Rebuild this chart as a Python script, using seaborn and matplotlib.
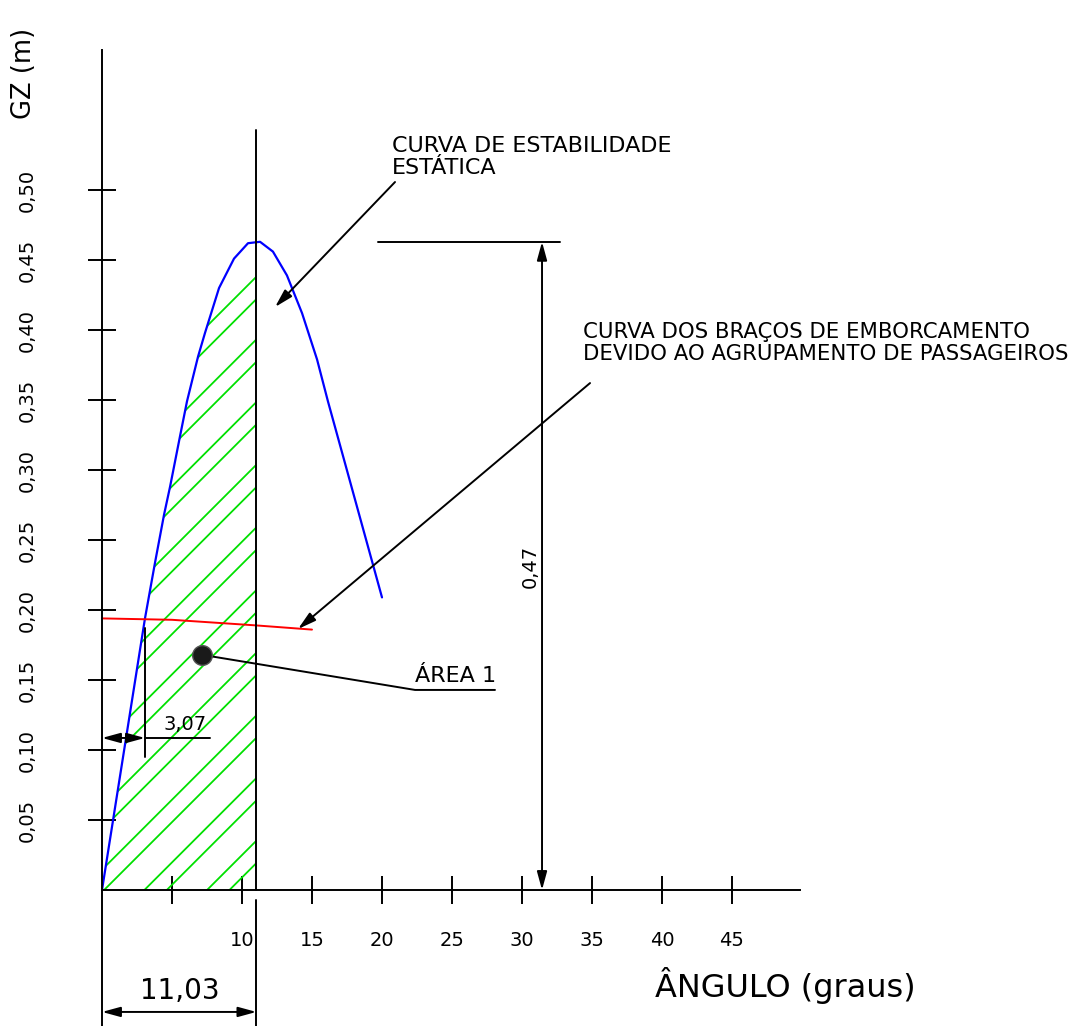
import numpy as np
import matplotlib
matplotlib.use("Agg")
import matplotlib.pyplot as plt
from matplotlib.patches import Polygon
import seaborn as sns

# curva de estabilidade estatica (GZ x angulo)
angulo_gz = [0, 3.07, 3.79, 4.43, 4.86, 5.57, 6.07, 6.86, 7.36, 8.36, 9.43,
             10.43, 11.29, 12.21, 13.21, 14.29, 15.36, 16.14, 20.0]
gz = [0, 0.194, 0.234, 0.268, 0.288, 0.324, 0.349, 0.381, 0.398, 0.430, 0.451,
      0.462, 0.463, 0.456, 0.439, 0.412, 0.379, 0.349, 0.209]

# bracos de emborcamento (agrupamento de passageiros)
angulo_braco = [0, 5, 11, 15]
braco = [0.194, 0.193, 0.189, 0.186]

# eixos
x_ticks = [5, 10, 15, 20, 25, 30, 35, 40, 45]
x_labels = ["", "10", "15", "20", "25", "30", "35", "40", "45"]
y_ticks = [0.05, 0.10, 0.15, 0.20, 0.25, 0.30, 0.35, 0.40, 0.45, 0.50]
y_labels = ["0,05", "0,10", "0,15", "0,20", "0,25", "0,30", "0,35", "0,40", "0,45", "0,50"]

# cotas
ang_equilibrio = 3.07
ang_limite = 11.03
gz_max_txt = "0,47"
area_ponto = (7.14, 0.168)

# --- figura ---
sns.set_style("white")
plt.rcParams['font.family'] = ['DejaVu Sans']
plt.rcParams['text.color'] = 'black'
fig = plt.figure(figsize=(10.87, 10.26), dpi=100)
ax = fig.add_axes([0, 0, 1, 1])
ax.set_xlim(-102 / 14, (1087 - 102) / 14)
ax.set_ylim(-136 / 1400, 890 / 1400)
ax.patch.set_alpha(0)

lw = 1.4
fs = 16

# hachura da area 1
gz_lim = np.interp(ang_limite, angulo_gz, gz)
verts = [(a, g) for a, g in zip(angulo_gz, gz) if a < ang_limite]
verts += [(ang_limite, gz_lim), (ang_limite, 0)]
area = Polygon(verts, closed=True, transform=ax.transData,
               facecolor='none', edgecolor='none')
ax.add_patch(area)
periodo = 0.04476
for g0 in np.arange(0.4381, 0, -periodo):
    for off in (0, -0.016):
        xs = np.array([-1, ang_limite + 1])
        ys = g0 + off + 0.01 * (xs - ang_limite)
        ln, = ax.plot(xs, ys, color='#00e000', lw=1.3)
        ln.set_clip_path(area)

sns.lineplot(x=angulo_gz, y=gz, sort=False, estimator=None, color='#0000ff',
             lw=1.6, ax=ax)
sns.lineplot(x=angulo_braco, y=braco, sort=False, estimator=None,
             color='#ff0000', lw=1.4, ax=ax)

# eixos tipo CAD
for s in ['top', 'right']:
    ax.spines[s].set_visible(False)
ax.spines['left'].set_position(('data', 0))
ax.spines['bottom'].set_position(('data', 0))
ax.spines['left'].set_bounds(-136 / 1400, 0.6)
ax.spines['bottom'].set_bounds(0, 49.86)
for s in ['left', 'bottom']:
    ax.spines[s].set_linewidth(lw)
    ax.spines[s].set_color('black')
ax.set_xticks(x_ticks)
ax.set_xticklabels(x_labels, fontsize=14)
ax.set_yticks(y_ticks)
ax.set_yticklabels(y_labels, rotation=90, va='center', fontsize=14)
ax.tick_params(axis='both', direction='inout', length=20.5, width=lw,
               colors='black', bottom=True, left=True)
ax.tick_params(axis='x', pad=19)
ax.tick_params(axis='y', pad=37)

ax.text(24 / 1087, 1 - 73 / 1026, "GZ (m)", transform=ax.transAxes,
        rotation=90, ha='center', va='center', fontsize=18.5)
ax.text(655 / 1087, 1 - 986 / 1026, "ÂNGULO (graus)", transform=ax.transAxes,
        ha='left', va='center', fontsize=23)

# linha do angulo limite
ax.plot([ang_limite, ang_limite], [0, 0.543], color='black', lw=lw)
ax.plot([ang_limite, ang_limite], [-0.007, -0.097], color='black', lw=lw)

arrow2 = dict(arrowstyle='<|-|>,head_length=0.55,head_width=0.15',
              color='black', lw=lw, shrinkA=0, shrinkB=0, mutation_scale=20)
arrow1 = dict(arrowstyle='-|>,head_length=0.55,head_width=0.15',
              color='black', lw=lw, shrinkA=0, shrinkB=0, mutation_scale=20)

# cota 11,03
ax.annotate("", xy=(0, -0.0871), xytext=(ang_limite, -0.0871), arrowprops=arrow2)
ax.text(ang_limite / 2 + 0.05, -0.0725, "11,03", ha='center', va='center',
        fontsize=20)

# cota 3,07
y307 = 0.1086
ax.annotate("", xy=(0, y307), xytext=(ang_equilibrio, y307), arrowprops=arrow2)
ax.plot([ang_equilibrio, 7.71], [y307, y307], color='black', lw=lw)
ax.plot([ang_equilibrio, ang_equilibrio], [0.095, 0.187], color='black', lw=lw)
ax.text(5.93, y307 + 0.003, "3,07", ha='center', va='bottom', fontsize=14)

# cota 0,47
gz_top = max(gz)
ax.annotate("", xy=(31.43, 0), xytext=(31.43, gz_top), arrowprops=arrow2)
ax.plot([19.71, 32.71], [gz_top, gz_top], color='black', lw=lw)
ax.text(31.25, 0.231, gz_max_txt, rotation=90, ha='right', va='center',
        fontsize=14)

# chamadas
ax.annotate("", xy=(12.36, 0.4164), xytext=(20.93, 0.5057), arrowprops=arrow1)
ax.text(20.71, 0.5386, "CURVA DE ESTABILIDADE\nESTÁTICA", ha='left', va='top',
        fontsize=fs, linespacing=1.1)
ax.annotate("", xy=(14.0, 0.1864), xytext=(34.86, 0.3621), arrowprops=arrow1)
ax.text(34.36, 0.4057,
        "CURVA DOS BRAÇOS DE EMBORCAMENTO\nDEVIDO AO AGRUPAMENTO DE PASSAGEIROS",
        ha='left', va='top', fontsize=15.3, linespacing=1.1)

# area 1
ax.scatter([area_ponto[0]], [area_ponto[1]], s=200, color='#1a1a1a',
           edgecolor='#555555', linewidth=1, zorder=5)
ax.plot([area_ponto[0], 22.36, 28.07], [area_ponto[1], 0.1429, 0.1429],
        color='black', lw=lw)
ax.text(22.36, 0.146, "ÁREA 1", ha='left', va='bottom', fontsize=16)

fig.savefig("out.png", dpi=100)
